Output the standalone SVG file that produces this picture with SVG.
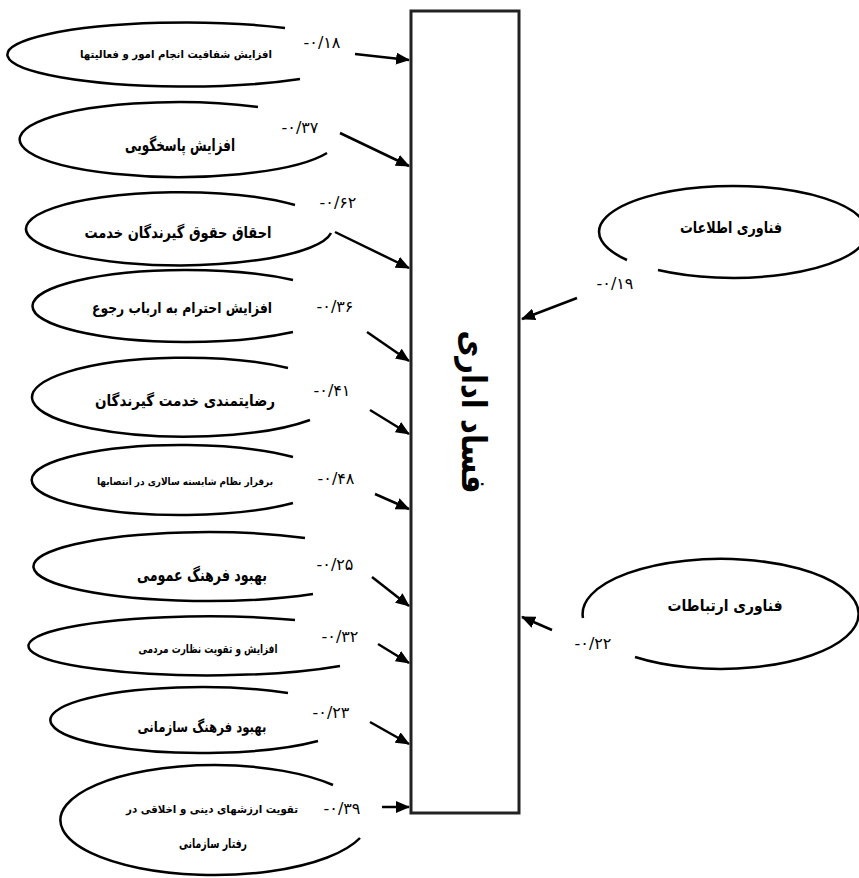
<svg xmlns="http://www.w3.org/2000/svg" width="859" height="878" viewBox="0 0 859 878">
<defs>
<style>
.el{fill:none;stroke:#000;stroke-width:2.5}
.t{font-family:"DejaVu Sans",sans-serif;font-weight:bold;text-anchor:middle;direction:rtl;fill:#000}
.n{font-family:"DejaVu Sans",sans-serif;font-size:16px;text-anchor:middle;direction:ltr;fill:#000}
.c{stroke:#000;stroke-width:2.5;fill:none;marker-end:url(#ah)}
.box{fill:#fff;stroke:#222;stroke-width:3}
</style>
<marker id="ah" markerUnits="userSpaceOnUse" markerWidth="14" markerHeight="12" refX="13" refY="6" orient="auto">
<path d="M0,0 L14,6 L0,12 Z" fill="#000"/>
</marker>
</defs>
<rect width="859" height="878" fill="#fff"/>

<g id="n0">
<rect class="box" x="411" y="11" width="108" height="802"/>
<text class="t" transform="translate(462,412) rotate(90)" font-size="34" textLength="163" lengthAdjust="spacingAndGlyphs">فساد اداری</text>
</g>

<g id="n1">
<path class="el" d="M285,28 A178,32 0 1 0 300,79"/>
<text class="t" x="176" y="58" font-size="11" textLength="192" lengthAdjust="spacingAndGlyphs">افزایش شفافیت انجام امور و فعالیتها</text>
<text class="n" x="322" y="48">-۰/۱۸</text>
</g>
<g id="n2">
<path class="el" d="M258,107 A159,37.5 0 1 0 327,153"/>
<text class="t" x="180" y="151" font-size="17" textLength="110" lengthAdjust="spacingAndGlyphs">افزایش پاسخگویی</text>
<text class="n" x="300" y="133">-۰/۳۷</text>
</g>
<g id="n3">
<path class="el" d="M295,205 A153,36.5 0 1 0 331,233"/>
<text class="t" x="178" y="238" font-size="16" textLength="187" lengthAdjust="spacingAndGlyphs">احقاق حقوق گیرندگان خدمت</text>
<text class="n" x="338" y="208">-۰/۶۲</text>
</g>
<g id="n4">
<path class="el" d="M293,280 A154,36 0 1 0 293,332"/>
<text class="t" x="182" y="313" font-size="15" textLength="180" lengthAdjust="spacingAndGlyphs">افزایش احترام به ارباب رجوع</text>
<text class="n" x="335" y="312">-۰/۳۶</text>
</g>
<g id="n5">
<path class="el" d="M288,368 A153,39.5 0 1 0 310,420"/>
<text class="t" x="185" y="406" font-size="15.5" textLength="180" lengthAdjust="spacingAndGlyphs">رضایتمندی خدمت گیرندگان</text>
<text class="n" x="332" y="396">-۰/۴۱</text>
</g>
<g id="n6">
<path class="el" d="M293,457 A149,35 0 1 0 293,503"/>
<text class="t" x="185" y="485" font-size="10" textLength="176" lengthAdjust="spacingAndGlyphs">برقرار نظام شایسته سالاری در انتصابها</text>
<text class="n" x="336" y="484">-۰/۴۸</text>
</g>
<g id="n7">
<path class="el" d="M305,538 A174,34.5 0 1 0 313,594"/>
<text class="t" x="202" y="581" font-size="17" textLength="130" lengthAdjust="spacingAndGlyphs">بهبود فرهنگ عمومی</text>
<text class="n" x="335" y="570">-۰/۲۵</text>
</g>
<g id="n8">
<path class="el" d="M295,620 A180,29.5 0 1 0 340,666"/>
<text class="t" x="208" y="653" font-size="11.5" textLength="139" lengthAdjust="spacingAndGlyphs">افزایش و تقویت نظارت مردمی</text>
<text class="n" x="340" y="642">-۰/۳۲</text>
</g>
<g id="n9">
<path class="el" d="M288,693 A151,33 0 1 0 318,741"/>
<text class="t" x="202" y="732" font-size="15" textLength="129" lengthAdjust="spacingAndGlyphs">بهبود فرهنگ سازمانی</text>
<text class="n" x="331" y="718">-۰/۲۳</text>
</g>
<g id="n10">
<path class="el" d="M333,785 A154,55 0 1 0 360,838"/>
<text class="t" x="212" y="813" font-size="11" textLength="172" lengthAdjust="spacingAndGlyphs">تقویت ارزشهای دینی و اخلاقی در</text>
<text class="t" x="213" y="848" font-size="13" textLength="68" lengthAdjust="spacingAndGlyphs">رفتار سازمانی</text>
<text class="n" x="342" y="814">-۰/۳۹</text>
</g>
<g id="n11">
<path class="el" d="M627,260 A134,46 0 1 1 658,270"/>
<text class="t" x="731" y="233" font-size="16" textLength="102" lengthAdjust="spacingAndGlyphs">فناوری اطلاعات</text>
<text class="n" x="615" y="289">-۰/۱۹</text>
</g>
<g id="n12">
<path class="el" d="M583,618 A138,55 0 1 1 635,657"/>
<text class="t" x="725" y="611" font-size="16" textLength="115" lengthAdjust="spacingAndGlyphs">فناوری ارتباطات</text>
<text class="n" x="593" y="649">-۰/۲۲</text>
</g>

<g id="connectors">
<line class="c" x1="355" y1="54" x2="409" y2="60"/>
<line class="c" x1="340" y1="133" x2="409" y2="166"/>
<line class="c" x1="335" y1="232" x2="409" y2="268"/>
<line class="c" x1="367" y1="332" x2="409" y2="361"/>
<line class="c" x1="370" y1="410" x2="409" y2="434"/>
<line class="c" x1="375" y1="494" x2="409" y2="509"/>
<line class="c" x1="372" y1="577" x2="409" y2="606"/>
<line class="c" x1="378" y1="644" x2="409" y2="663"/>
<line class="c" x1="370" y1="722" x2="409" y2="744"/>
<line class="c" x1="382" y1="807" x2="409" y2="807"/>
<line class="c" x1="577" y1="298" x2="522" y2="319"/>
<line class="c" x1="552" y1="630" x2="522" y2="617"/>
</g>
</svg>
